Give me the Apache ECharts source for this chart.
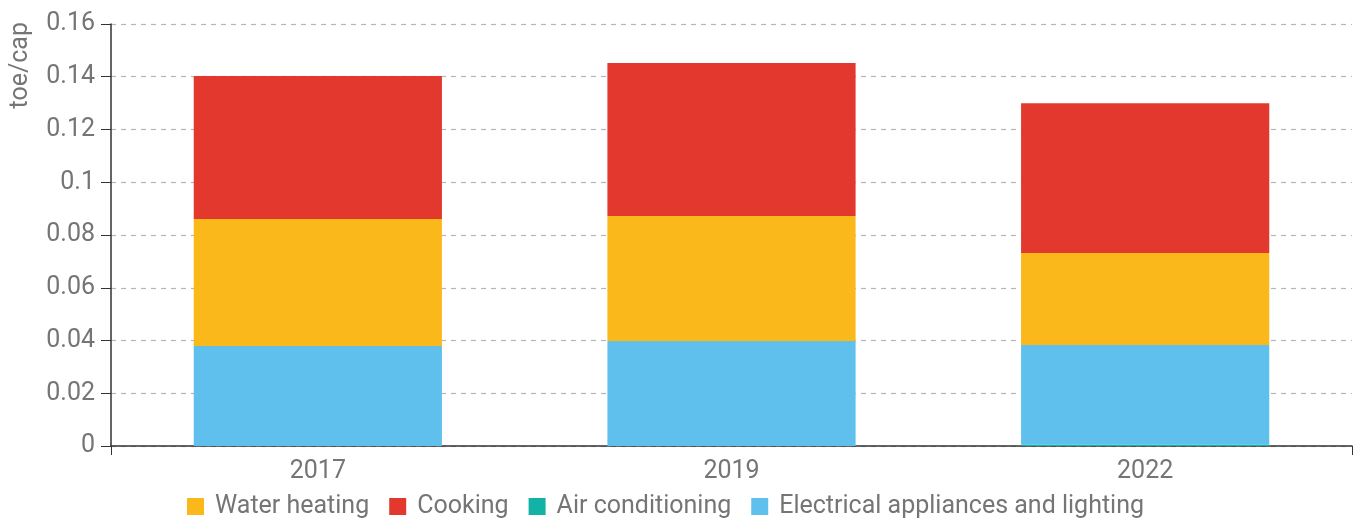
<!DOCTYPE html>
<html>
<head>
<meta charset="utf-8">
<script src="https://cdn.jsdelivr.net/npm/echarts@6/dist/echarts.min.js"></script>
<style>
html,body{margin:0;padding:0;background:#fff;}
#chart{width:1362px;height:522px;}
</style>
</head>
<body>
<div id="chart"></div>
<script>
// data (toe/cap)
const years = ['2017', '2019', '2022'];
const airConditioning = [0, 0, 0.0006];
const electrical = [0.0379, 0.0398, 0.0377];
const waterHeating = [0.0482, 0.0474, 0.0349];
const cooking = [0.0542, 0.0580, 0.0568];

const FONT = 'Roboto';
const GREY = '#757575';
const SIZE = 25;

const chart = echarts.init(document.getElementById('chart'));

function bar(name, data, color){
    return {
        name: name,
        type: 'bar',
        stack: 'total',
        barWidth: '60%',
        data: data,
        itemStyle: {color: color},
        emphasis: {disabled: true}
    };
}

chart.setOption({
    animation: false,
    textStyle: {fontFamily: FONT},
    grid: {left: 111, right: 10, top: 24, bottom: 76, containLabel: false},
    legend: {
        top: 489,
        left: 182,
        itemWidth: 17,
        itemHeight: 17,
        itemGap: 20,
        icon: 'rect',
        data: ['Water heating', 'Cooking', 'Air conditioning', 'Electrical appliances and lighting'],
        textStyle: {color: GREY, fontSize: SIZE, fontFamily: FONT, padding: [0, 0, 0, 6]}
    },
    graphic: [{
        type: 'text',
        x: 8,
        y: 22,
        rotation: Math.PI / 2,
        style: {
            text: 'toe/cap',
            fill: GREY,
            font: '25px Roboto',
            align: 'right',
            verticalAlign: 'top'
        }
    }],
    xAxis: [{
        type: 'category',
        data: years,
        axisLine: {lineStyle: {color: '#333', width: 1.5}},
        axisTick: {alignWithLabel: true, length: 9, lineStyle: {color: '#333'}},
        axisLabel: {color: GREY, fontSize: SIZE, margin: 13}
    }, {
        // only for the end ticks of the bottom axis
        type: 'value',
        position: 'bottom',
        min: 0,
        max: 1,
        interval: 1,
        axisLine: {show: false},
        axisTick: {show: true, length: 9, lineStyle: {color: '#333'}},
        axisLabel: {show: false},
        splitLine: {show: false}
    }],
    yAxis: {
        type: 'value',
        min: 0,
        max: 0.16,
        interval: 0.02,
        axisLine: {show: true, lineStyle: {color: '#333', width: 1.5}},
        axisTick: {show: true, length: 10, lineStyle: {color: '#333'}},
        axisLabel: {
            color: GREY,
            fontSize: SIZE,
            margin: 16,
            formatter: v => String(parseFloat(v.toFixed(2)))
        },
        splitLine: {lineStyle: {color: '#b5b5b5', type: [5, 5], width: 1.2}}
    },
    series: [
        bar('Air conditioning', airConditioning, '#12b3a6'),
        bar('Electrical appliances and lighting', electrical, '#5fc0ed'),
        bar('Water heating', waterHeating, '#fab81b'),
        bar('Cooking', cooking, '#e2382e')
    ]
});
</script>
</body>
</html>
